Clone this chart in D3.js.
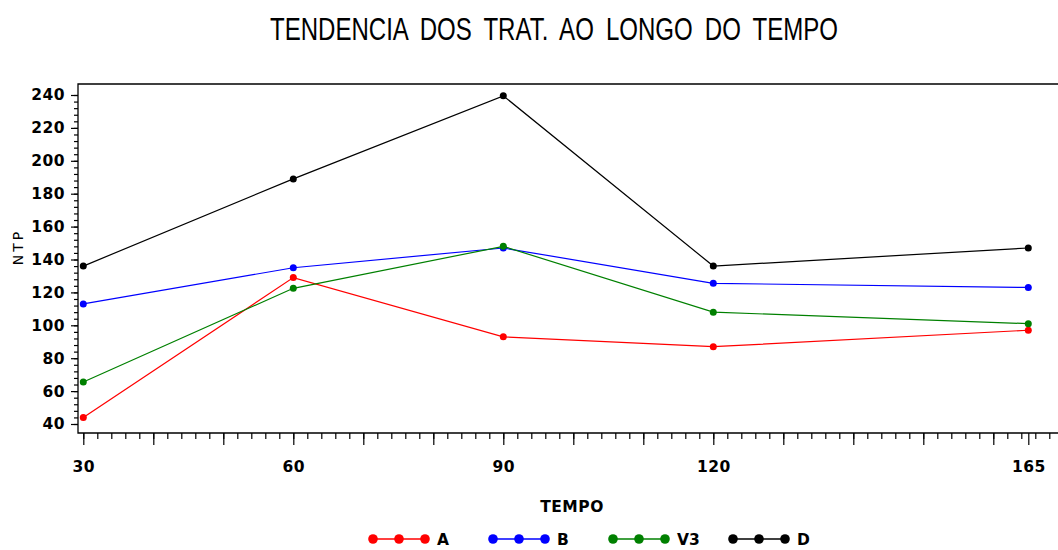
<!DOCTYPE html>
<html>
<head>
<meta charset="utf-8">
<script src="https://cdn.jsdelivr.net/npm/d3@7"></script>
<style>
  html, body { margin: 0; padding: 0; background: #fff; }
  svg { display: block; }
  .lbl { font-family: "DejaVu Sans", "Liberation Sans", sans-serif; font-weight: bold; font-size: 15.5px; fill: #000; }
</style>
</head>
<body>
<svg id="chart" width="1058" height="550"></svg>
<script>
// Time points (TEMPO) and tick labels
const tempo = [30, 60, 90, 120, 165];
const xTickLabels = [30, 60, 90, 120, 165];
const yTickLabels = [40, 60, 80, 100, 120, 140, 160, 180, 200, 220, 240];

// NTP per treatment
const serieA  = [44, 129, 93, 87, 97];
const serieB  = [113, 135, 147, 125.5, 123];
const serieV3 = [65.5, 122.5, 148, 108, 101];
const serieD  = [136, 189, 239.5, 136, 147];

const seriesNames = ["A", "B", "V3", "D"];
const seriesColors = ["#ff0000", "#0000ff", "#008000", "#000000"];
const seriesValues = [serieA, serieB, serieV3, serieD];

const svg = d3.select("#chart");

// plot frame
const frame = { left: 78, top: 84, bottom: 433, right: 1064 };

const x = d3.scaleLinear().domain([30, 165]).range([83.3, 1028.3]);
const y = d3.scaleLinear().domain([40, 240]).range([424, 95]);

// title
svg.append("text")
  .attr("x", 554).attr("y", 40)
  .attr("text-anchor", "middle")
  .attr("textLength", 568)
  .attr("lengthAdjust", "spacingAndGlyphs")
  .style("font-family", "'Liberation Sans Narrow', 'Liberation Sans', Arial, sans-serif")
  .style("font-size", "31px")
  .style("word-spacing", "7px")
  .style("fill", "#000")
  .text("TENDENCIA DOS TRAT. AO LONGO DO TEMPO");

// frame lines (left, top, bottom)
svg.append("path")
  .attr("d", `M${frame.right},${frame.top}H${frame.left}V${frame.bottom}H${frame.right}`)
  .attr("fill", "none").attr("stroke", "#000").attr("stroke-width", 1.3);

// Y axis: minor ticks every 4, major every 20
const yMinor = d3.axisLeft(y).tickValues(d3.range(40, 241, 4)).tickSize(4).tickFormat("");
const yMajor = d3.axisLeft(y).tickValues(yTickLabels).tickSize(7).tickPadding(6).tickFormat(d3.format("d"));
[yMinor, yMajor].forEach(ax => {
  const g = svg.append("g").attr("transform", `translate(${frame.left},0)`).call(ax);
  g.select(".domain").remove();
  g.selectAll(".tick line").attr("stroke", "#000").attr("stroke-width", 1.2);
  g.selectAll(".tick text").attr("class", "lbl").style("letter-spacing", "0.5px");
});

// X axis: minor ticks every 2, major every 10 plus 165
const xMinor = d3.axisBottom(x).tickValues(d3.range(30, 171, 2)).tickSize(6).tickFormat("");
const xMajorVals = d3.range(30, 161, 10).concat([165]);
const xMajor = d3.axisBottom(x).tickValues(xMajorVals).tickSize(12).tickPadding(16)
  .tickFormat(d => xTickLabels.includes(d) ? d : "");
[xMinor, xMajor].forEach(ax => {
  const g = svg.append("g").attr("transform", `translate(0,${frame.bottom})`).call(ax);
  g.select(".domain").remove();
  g.selectAll(".tick line").attr("stroke", "#000").attr("stroke-width", 1.2);
  g.selectAll(".tick text").attr("class", "lbl").style("letter-spacing", "0.5px");
});

// axis titles
svg.append("text")
  .attr("class", "lbl")
  .attr("x", 572).attr("y", 512)
  .attr("text-anchor", "middle")
  .style("letter-spacing", "0.5px")
  .text("TEMPO");

svg.append("text")
  .attr("transform", "translate(23,247) rotate(-90)")
  .attr("text-anchor", "middle")
  .style("font-family", "'DejaVu Sans', sans-serif")
  .style("font-size", "14px")
  .style("letter-spacing", "3px")
  .style("fill", "#000")
  .text("NTP");

// series lines and markers
const line = d3.line().x((d, i) => x(tempo[i])).y(d => y(d));
seriesValues.forEach((vals, k) => {
  svg.append("path")
    .datum(vals)
    .attr("d", line)
    .attr("fill", "none")
    .attr("stroke", seriesColors[k])
    .attr("stroke-width", 1.2);
  svg.append("g").selectAll("circle")
    .data(vals)
    .join("circle")
    .attr("cx", (d, i) => x(tempo[i]))
    .attr("cy", d => y(d))
    .attr("r", 3.5)
    .attr("fill", seriesColors[k]);
});

// legend
const legendY = 539;
const legend = svg.append("g");
seriesNames.forEach((name, k) => {
  const x0 = 373 + k * 120;
  const g = legend.append("g").attr("transform", `translate(${x0},${legendY})`);
  g.append("line").attr("x1", 0).attr("x2", 52)
    .attr("stroke", seriesColors[k]).attr("stroke-width", 1.5);
  g.selectAll("circle").data([0, 26, 52]).join("circle")
    .attr("cx", d => d).attr("cy", 0).attr("r", 4.8)
    .attr("fill", seriesColors[k]);
  g.append("text").attr("class", "lbl")
    .attr("x", 64).attr("y", 6)
    .text(name);
});
</script>
</body>
</html>
